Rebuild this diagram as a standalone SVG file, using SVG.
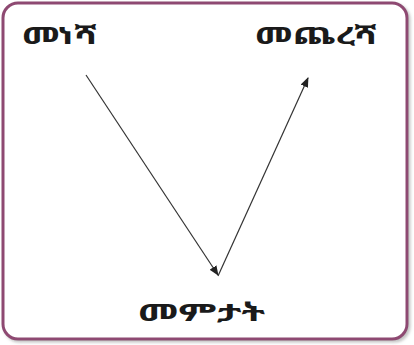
<svg xmlns="http://www.w3.org/2000/svg" width="414" height="345" viewBox="0 0 414 345">
<defs>
<marker id="ah" markerWidth="10" markerHeight="8" refX="9" refY="4" orient="auto" markerUnits="userSpaceOnUse">
<path d="M0,0 L10,4 L0,8 Z" fill="#222"/>
</marker>
<filter id="sh" x="-5%" y="-5%" width="110%" height="110%">
<feDropShadow dx="2" dy="2" stdDeviation="1.5" flood-color="#999" flood-opacity="0.6"/>
</filter>
</defs>
<style>
.lbl{font-family:"Noto Sans Ethiopic","Abyssinica SIL","DejaVu Sans","Noto Sans",sans-serif;font-size:24px;font-weight:bold;fill:#1a1a1a}
.con{stroke:#333;stroke-width:1.2;fill:none;marker-end:url(#ah)}
</style>
<rect x="3" y="3" width="404" height="336" rx="15" ry="15" fill="#fff" stroke="#8e4a72" stroke-width="3" filter="url(#sh)"/>
<g id="start"><text class="lbl" x="22" y="44" textLength="75" lengthAdjust="spacingAndGlyphs">መነሻ</text></g>
<g id="end"><text class="lbl" x="255" y="44" textLength="122" lengthAdjust="spacingAndGlyphs">መጨረሻ</text></g>
<g id="hit"><text class="lbl" x="138" y="321" textLength="127" lengthAdjust="spacingAndGlyphs">መምታት</text></g>
<g id="connectors">
<line class="con" x1="86" y1="75" x2="218" y2="275"/>
<line class="con" x1="218" y1="276" x2="308" y2="78"/>
</g>
</svg>
